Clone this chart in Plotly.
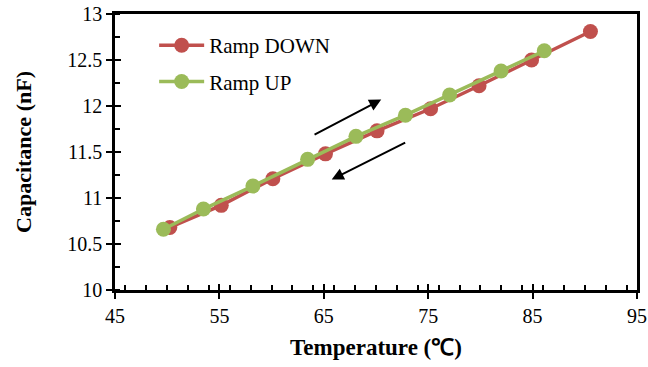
import plotly.graph_objects as go

down_T = [50.25, 55.18, 60.12, 65.16, 70.10, 75.23, 79.87, 84.90, 90.54]
down_C = [10.68, 10.92, 11.21, 11.48, 11.73, 11.97, 12.22, 12.50, 12.81]
up_T = [49.64, 53.47, 58.21, 63.45, 68.08, 72.82, 77.05, 81.98, 86.12]
up_C = [10.66, 10.88, 11.13, 11.42, 11.67, 11.90, 12.12, 12.38, 12.60]

RED = "#C0504D"
GREEN = "#9BBB59"
FONT = "Liberation Serif"

fig = go.Figure()
fig.add_trace(go.Scatter(x=down_T, y=down_C, mode="lines+markers", name="Ramp DOWN",
                         legendgroup="down",
                         line=dict(color=RED, width=3.5),
                         marker=dict(color=RED, size=15)))
fig.add_trace(go.Scatter(x=up_T, y=up_C, mode="lines+markers", name="Ramp UP",
                         legendgroup="up",
                         line=dict(color=GREEN, width=3.5),
                         marker=dict(color=GREEN, size=15)))
fig.add_trace(go.Scatter(x=[45], y=[10], xaxis="x2", yaxis="y2", mode="markers",
                         marker=dict(opacity=0), showlegend=False, hoverinfo="skip"))

fig.add_annotation(x=70.5, y=12.07, ax=63.97, ay=11.68, xref="x", yref="y",
                   axref="x", ayref="y", showarrow=True, arrowhead=2,
                   arrowsize=1.2, arrowwidth=2, arrowcolor="black", text="")
fig.add_annotation(x=65.76, y=11.20, ax=72.94, ay=11.61, xref="x", yref="y",
                   axref="x", ayref="y", showarrow=True, arrowhead=2,
                   arrowsize=1.2, arrowwidth=2, arrowcolor="black", text="")

axis_common = dict(showgrid=False, zeroline=False, linecolor="black", linewidth=2.5,
                   ticks="outside", ticklen=6, tickwidth=2, tickcolor="black",
                   automargin=False, ticklabeloverflow="allow",
                   tickfont=dict(family=FONT, size=20, color="black"))

fig.update_layout(
    width=648, height=367,
    margin=dict(l=115, r=11, t=14, b=77),
    plot_bgcolor="white", paper_bgcolor="white",
    font=dict(family=FONT, color="black"),
    xaxis=dict(range=[45, 95], tickvals=[45, 55, 65, 75, 85, 95], mirror=True,
               minor=dict(dtick=2, ticks="inside", ticklen=5, tickwidth=1.5, tickcolor="black"),
               title=dict(text="<b>Temperature (℃)</b>", font=dict(family=FONT, size=23), standoff=14),
               **axis_common),
    yaxis=dict(range=[10, 13], tickvals=[10, 10.5, 11, 11.5, 12, 12.5, 13],
               ticktext=["10", "10.5", "11", "11.5", "12", "12.5", "13"], mirror=True,
               minor=dict(dtick=0.25, ticks="inside", ticklen=5, tickwidth=1.5, tickcolor="black"),
               title=dict(text="<b>Capacitance (nF)</b>", font=dict(family=FONT, size=22), standoff=30),
               **axis_common),
    xaxis2=dict(range=[45, 95], overlaying="x", tickvals=[45, 55, 65, 75, 85, 95],
                ticks="inside", ticklen=6, tickwidth=2, tickcolor="black", automargin=False,
                showticklabels=False, showgrid=False, zeroline=False, showline=False),
    yaxis2=dict(range=[10, 13], overlaying="y", tickvals=[10, 10.5, 11, 11.5, 12, 12.5, 13],
                ticks="inside", ticklen=6, tickwidth=2, tickcolor="black", automargin=False,
                showticklabels=False, showgrid=False, zeroline=False, showline=False),
    legend=dict(x=0.075, y=0.96, xanchor="left", yanchor="top", bgcolor="rgba(0,0,0,0)",
                font=dict(family=FONT, size=21, color="black"), tracegroupgap=6,
                itemwidth=45),
    showlegend=True,
)

fig.write_html("out.html", config={"displayModeBar": False},
               post_script="document.body.style.margin='0';")
